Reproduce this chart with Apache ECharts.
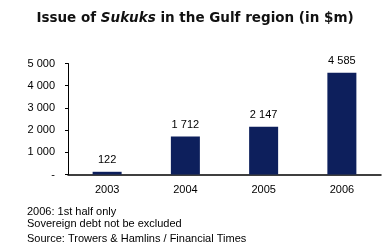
<!DOCTYPE html>
<html><head><meta charset="utf-8">
<script src="https://cdn.jsdelivr.net/npm/echarts@6/dist/echarts.min.js"></script>
<style>html,body{margin:0;padding:0;background:#fff}#c{width:390px;height:252px}</style>
</head><body><div id="c"></div>
<script>
const categories = ['2003', '2004', '2005', '2006'];
const values = [122, 1712, 2147, 4585];
const yTicks = [0, 1000, 2000, 3000, 4000, 5000];
const notes = ['2006: 1st half only', 'Sovereign debt not be excluded', 'Source: Trowers & Hamlins / Financial Times'];

function fmt(v) {
  if (v === 0) return '-';
  return String(v).replace(/\B(?=(\d{3})+(?!\d))/g, ' ');
}
const chart = echarts.init(document.getElementById('c'), null, {renderer: 'canvas'});
const F = 'Liberation Sans, Arial, sans-serif';
chart.setOption({
  backgroundColor: '#fff',
  animation: false,
  title: {
    text: '{a|Issue of }{b|Sukuks}{a| in the Gulf region (in $m)}',
    left: 'center', top: 6,
    textStyle: {
      rich: {
        a: {fontFamily: 'DejaVu Sans', fontWeight: 'bold', fontSize: 13.5, color: '#111'},
        b: {fontFamily: 'DejaVu Sans', fontWeight: 'bold', fontStyle: 'italic', fontSize: 13.5, color: '#111'}
      }
    }
  },
  grid: {left: 68, right: 9, top: 63.5, bottom: 77.5},
  xAxis: {
    type: 'category', data: categories,
    axisLine: {lineStyle: {color: '#000', width: 1.5}},
    axisTick: {show: false},
    axisLabel: {fontFamily: F, fontSize: 11, color: '#000', margin: 10}
  },
  yAxis: {
    type: 'value', min: yTicks[0], max: yTicks[yTicks.length - 1], interval: 1000,
    axisLine: {show: true, lineStyle: {color: '#000', width: 1}},
    axisTick: {show: true, length: 3, lineStyle: {color: '#000'}},
    splitLine: {show: false},
    axisLabel: {fontFamily: F, fontSize: 11, color: '#000', margin: 13, formatter: fmt}
  },
  series: [{
    type: 'bar', data: values, barWidth: 29,
    itemStyle: {color: '#0d1f5c'},
    label: {show: true, position: 'top', distance: 6, fontFamily: F, fontSize: 11, color: '#000', formatter: p => fmt(p.value)}
  }],
  graphic: notes.map((t, i) => ({
    type: 'text', left: 27, top: [206.5, 218.5, 233.5][i],
    style: {text: t, font: '11px ' + F, fill: '#000'}
  }))
});
</script></body></html>
